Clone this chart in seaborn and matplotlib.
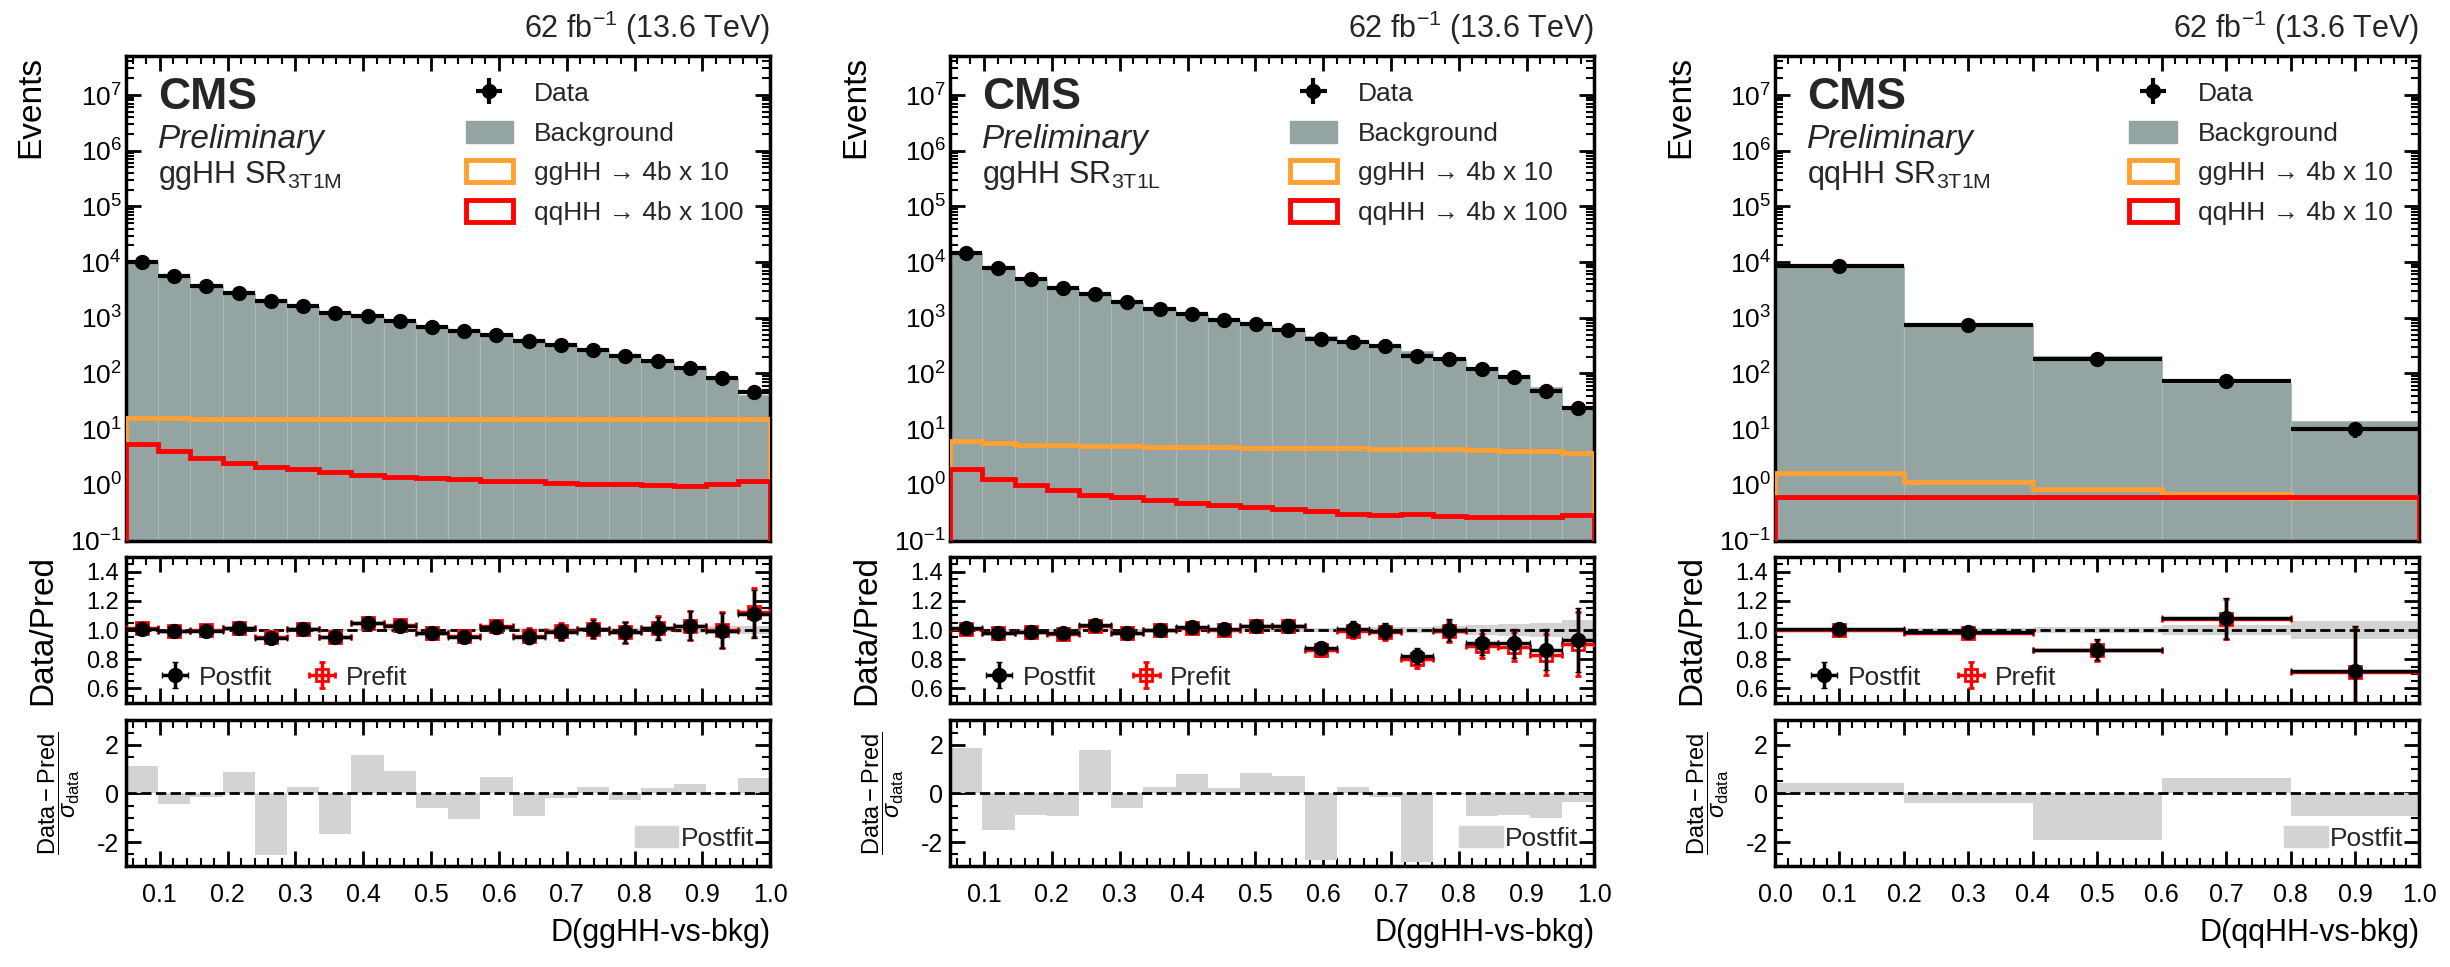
import numpy as np
import matplotlib
matplotlib.use("Agg")
import matplotlib.pyplot as plt
import seaborn as sns
from matplotlib.patches import Patch
from matplotlib.ticker import (MultipleLocator, LogLocator, NullFormatter,
                               FormatStrFormatter, AutoMinorLocator)

# ---- binning ----
edges_gg = np.linspace(0.05, 1.0, 21)
edges_qq = np.array([0.0, 0.2, 0.4, 0.6, 0.8, 1.0])

# ---- ggHH SR 3T1M ----
gg1_data = [10100, 5600, 3780, 2840, 1990, 1650, 1200, 1090, 880, 680,
            573, 497, 384, 318, 268, 207, 167, 128, 82, 46]
gg1_bkg = [10000, 5660, 3800, 2810, 2110, 1640, 1260, 1040, 855, 695,
           600, 486, 402, 322, 266, 210, 165, 124, 82, 41.5]
gg1_gghh = [15.6, 15.6, 15.5, 15.5, 15.5, 15.5, 15.4, 15.4, 15.4, 15.4,
            15.4, 15.4, 15.4, 15.4, 15.4, 15.4, 15.4, 15.4, 15.4, 15.4]
gg1_qqhh = [5.5, 4.0, 3.0, 2.5, 2.1, 1.9, 1.7, 1.53, 1.41, 1.35,
            1.26, 1.19, 1.15, 1.07, 1.04, 1.03, 1.0, 0.96, 1.03, 1.19]
gg1_post = [1.01, 0.99, 0.995, 1.012, 0.945, 1.005, 0.95, 1.046, 1.03, 0.977,
            0.955, 1.023, 0.955, 0.988, 1.007, 0.984, 1.012, 1.03, 0.995, 1.11]
gg1_pre = [1.015, 0.995, 1.0, 1.015, 0.95, 1.01, 0.955, 1.05, 1.035, 0.98,
           0.96, 1.025, 0.96, 0.99, 1.01, 0.985, 1.015, 1.03, 1.0, 1.12]
gg1_err = [0.01, 0.013, 0.016, 0.019, 0.022, 0.025, 0.029, 0.03, 0.034, 0.038,
           0.042, 0.045, 0.051, 0.056, 0.062, 0.072, 0.08, 0.1, 0.12, 0.165]
gg1_band = [0.004, 0.005, 0.005, 0.006, 0.006, 0.007, 0.007, 0.008, 0.008, 0.009,
            0.01, 0.01, 0.011, 0.012, 0.013, 0.014, 0.016, 0.018, 0.025, 0.03]
gg1_pull = [1.13, -0.45, -0.14, 0.87, -2.55, 0.26, -1.65, 1.59, 0.92, -0.59,
            -1.05, 0.68, -0.91, -0.17, 0.26, -0.28, 0.21, 0.37, -0.03, 0.63]

# ---- ggHH SR 3T1L ----
gg2_data = [14700, 7730, 4890, 3370, 2640, 1900, 1450, 1170, 930, 762,
            606, 412, 373, 309, 207, 182, 119, 85, 49, 24]
gg2_bkg = [14520, 7890, 4960, 3440, 2550, 1940, 1450, 1150, 924, 741,
           588, 470, 370, 311, 252, 182, 130, 93.6, 56.6, 25.8]
gg2_gghh = [6.06, 5.7, 5.3, 5.2, 5.0, 5.0, 4.8, 4.75, 4.7, 4.6,
            4.6, 4.55, 4.55, 4.4, 4.4, 4.35, 4.2, 4.1, 4.05, 3.8]
gg2_qqhh = [1.9, 1.28, 1.0, 0.81, 0.67, 0.6, 0.525, 0.47, 0.43, 0.394,
            0.37, 0.337, 0.305, 0.284, 0.296, 0.276, 0.264, 0.26, 0.264, 0.288]
gg2_post = [1.012, 0.98, 0.986, 0.98, 1.035, 0.98, 1.0, 1.018, 1.007, 1.028,
            1.03, 0.877, 1.007, 0.993, 0.822, 1.0, 0.914, 0.908, 0.866, 0.93]
gg2_pre = [1.01, 0.978, 0.983, 0.975, 1.03, 0.978, 0.998, 1.015, 1.0, 1.025,
           1.025, 0.862, 0.995, 0.985, 0.8, 0.99, 0.89, 0.885, 0.83, 0.905]
gg2_err = [0.008, 0.011, 0.014, 0.017, 0.02, 0.022, 0.026, 0.03, 0.033, 0.037,
           0.042, 0.043, 0.052, 0.056, 0.057, 0.074, 0.085, 0.1, 0.14, 0.22]
gg2_band = [0.004, 0.005, 0.005, 0.006, 0.006, 0.007, 0.008, 0.009, 0.01, 0.011,
            0.012, 0.014, 0.016, 0.018, 0.022, 0.025, 0.035, 0.04, 0.046, 0.07]
gg2_pull = [1.86, -1.49, -0.87, -0.94, 1.77, -0.58, 0.25, 0.79, 0.21, 0.83,
            0.72, -2.72, 0.25, -0.14, -2.83, -0.03, -0.91, -0.87, -0.99, -0.34]

# ---- qqHH SR 3T1M ----
qq_data = [8670, 752, 182, 72, 10]
qq_bkg = [8630, 764, 210, 66.6, 13.9]
qq_gghh = [1.63, 1.14, 0.855, 0.69, 0.58]
qq_qqhh = [0.6, 0.6, 0.6, 0.6, 0.6]
qq_post = [1.005, 0.984, 0.866, 1.081, 0.718]
qq_pre = [1.0, 0.98, 0.86, 1.075, 0.71]
qq_err = [0.012, 0.036, 0.07, 0.14, 0.31]
qq_band = [0.005, 0.012, 0.022, 0.032, 0.065]
qq_pull = [0.44, -0.39, -1.93, 0.62, -0.94]

BKG = "#94a4a2"
ORANGE = "#ffa033"
RED = "#ff0000"
LGREY = "#d3d3d3"
FONT = ["Liberation Sans", "DejaVu Sans"]

sns.set_theme(style="ticks")
plt.rcParams["font.family"] = FONT
plt.rcParams["mathtext.fontset"] = "custom"
plt.rcParams["mathtext.rm"] = "Liberation Sans"
plt.rcParams["mathtext.it"] = "Liberation Sans:italic"
plt.rcParams["mathtext.bf"] = "Liberation Sans:bold"

panels = [
    dict(edges=edges_gg, data=gg1_data, bkg=gg1_bkg, gghh=gg1_gghh, qqhh=gg1_qqhh,
         post=gg1_post, pre=gg1_pre, err=gg1_err, band=gg1_band, pull=gg1_pull,
         region=r"ggHH SR$_{\mathrm{3T1M}}$", qqlab="qqHH → 4b x 100",
         xlabel="D(ggHH-vs-bkg)"),
    dict(edges=edges_gg, data=gg2_data, bkg=gg2_bkg, gghh=gg2_gghh, qqhh=gg2_qqhh,
         post=gg2_post, pre=gg2_pre, err=gg2_err, band=gg2_band, pull=gg2_pull,
         region=r"ggHH SR$_{\mathrm{3T1L}}$", qqlab="qqHH → 4b x 100",
         xlabel="D(ggHH-vs-bkg)"),
    dict(edges=edges_qq, data=qq_data, bkg=qq_bkg, gghh=qq_gghh, qqhh=qq_qqhh,
         post=qq_post, pre=qq_pre, err=qq_err, band=qq_band, pull=qq_pull,
         region=r"qqHH SR$_{\mathrm{3T1M}}$", qqlab="qqHH → 4b x 10",
         xlabel="D(qqHH-vs-bkg)"),
]

lefts = [0.0514, 0.3878, 0.7245]
W = 0.263


def style(ax, labelsize=18):
    for s in ax.spines.values():
        s.set_linewidth(2.5)
        s.set_color("black")
    ax.tick_params(which="both", direction="in", top=True, right=True,
                   bottom=True, left=True, labelsize=labelsize, colors="black")
    ax.tick_params(which="major", length=11, width=2)
    ax.tick_params(which="minor", length=5.5, width=1.5)
    ax.grid(False)


fig = plt.figure(figsize=(24.5, 9.67), dpi=100)

for x0, p in zip(lefts, panels):
    edges = np.asarray(p["edges"])
    bins = list(edges)
    centers = 0.5 * (edges[:-1] + edges[1:])
    half = 0.5 * np.diff(edges)
    data = np.asarray(p["data"], dtype=float)
    band = np.asarray(p["band"])

    ax = fig.add_axes([x0, 0.441, W, 0.501])
    axr = fig.add_axes([x0, 0.273, W, 0.151])
    axp = fig.add_axes([x0, 0.104, W, 0.151])

    # --- main panel ---
    sns.histplot(x=centers, weights=p["bkg"], bins=bins, ax=ax, color=BKG,
                 alpha=1, edgecolor="#adb9b7", linewidth=0.8, zorder=1)
    ax.set_yscale("log")
    ax.stairs(p["gghh"], edges, color=ORANGE, lw=3.5, zorder=3)
    ax.stairs(p["qqhh"], edges, color=RED, lw=3.5, zorder=3)
    dat = ax.errorbar(centers, data, yerr=np.sqrt(data), xerr=half, fmt="o",
                      color="black", ms=10, lw=3, capsize=0, zorder=5)
    ax.set_xlim(edges[0], edges[-1])
    ax.set_ylim(0.1, 5e7)
    ax.yaxis.set_major_locator(LogLocator(base=10, numticks=20))
    ax.yaxis.set_minor_locator(LogLocator(base=10, subs=np.arange(2, 10), numticks=200))
    ax.yaxis.set_minor_formatter(NullFormatter())
    ax.xaxis.set_major_locator(MultipleLocator(0.1))
    ax.xaxis.set_minor_locator(MultipleLocator(0.02))
    style(ax, 19)
    ax.tick_params(axis="x", labelbottom=False)
    ax.tick_params(axis="y", pad=3)
    ax.set_xlabel("")
    ax.set_ylabel("Events", loc="top", fontsize=24, color="black")
    ax.yaxis.set_label_coords(-0.123, 1.0)

    ax.text(0.05, 0.915, "CMS", transform=ax.transAxes, fontsize=32,
            fontweight="bold", va="center", ha="left")
    ax.text(0.05, 0.828, "Preliminary", transform=ax.transAxes, fontsize=24,
            style="italic", va="center", ha="left")
    ax.text(0.05, 0.738, p["region"], transform=ax.transAxes, fontsize=22,
            va="baseline", ha="left")
    ax.text(1.0, 1.018, r"62 fb$^{-1}$ (13.6 TeV)", transform=ax.transAxes,
            fontsize=22, ha="right", va="bottom")

    handles = [dat, Patch(facecolor=BKG, edgecolor=BKG),
               Patch(facecolor="none", edgecolor=ORANGE, lw=3.5),
               Patch(facecolor="none", edgecolor=RED, lw=3.5)]
    labels = ["Data", "Background", "ggHH → 4b x 10", p["qqlab"]]
    ax.legend(handles, labels, loc="upper right", bbox_to_anchor=(0.975, 0.97),
              frameon=False, fontsize=19, handlelength=1.8, handleheight=0.9,
              labelspacing=0.55, handletextpad=0.8, borderaxespad=0)

    # --- ratio panel ---
    axr.stairs(1 + band, edges, baseline=1 - band, fill=True, color=LGREY,
               lw=0, zorder=1)
    axr.axhline(1.0, color="black", ls="--", lw=2, zorder=2)
    pre = axr.errorbar(centers, p["pre"], yerr=p["err"], xerr=half, fmt="s",
                       color=RED, mfc="none", mec=RED, mew=2, ms=8, lw=2.5,
                       capsize=2, zorder=3)
    post = axr.errorbar(centers, p["post"], yerr=p["err"], xerr=half, fmt="o",
                        color="black", ms=10, lw=2.5, capsize=2, zorder=4)
    axr.set_xlim(edges[0], edges[-1])
    axr.set_ylim(0.5, 1.5)
    axr.yaxis.set_major_locator(MultipleLocator(0.2))
    axr.yaxis.set_minor_locator(AutoMinorLocator())
    axr.yaxis.set_major_formatter(FormatStrFormatter("%.1f"))
    axr.xaxis.set_major_locator(MultipleLocator(0.1))
    axr.xaxis.set_minor_locator(MultipleLocator(0.02))
    style(axr, 17)
    axr.tick_params(axis="x", labelbottom=False)
    axr.tick_params(axis="y", pad=5)
    axr.set_ylabel("Data/Pred", fontsize=24, color="black")
    axr.yaxis.set_label_coords(-0.105, 0.5)
    axr.legend([post, pre], ["Postfit", "Prefit"], loc="lower left",
               bbox_to_anchor=(0.035, 0.02), ncol=2, frameon=False, fontsize=19,
               handlelength=1.2, handletextpad=0.3, columnspacing=1.3,
               borderaxespad=0)

    # --- pull panel ---
    sns.histplot(x=centers, weights=p["pull"], bins=bins, ax=axp, color=LGREY,
                 alpha=1, linewidth=0, zorder=1)
    axp.axhline(0.0, color="black", ls="--", lw=2, zorder=2)
    axp.set_xlim(edges[0], edges[-1])
    axp.set_ylim(-3, 3)
    axp.yaxis.set_major_locator(MultipleLocator(2))
    axp.yaxis.set_minor_locator(MultipleLocator(0.5))
    axp.yaxis.set_major_formatter(FormatStrFormatter("%d"))
    axp.xaxis.set_major_locator(MultipleLocator(0.1))
    axp.xaxis.set_minor_locator(MultipleLocator(0.02))
    axp.xaxis.set_major_formatter(FormatStrFormatter("%.1f"))
    style(axp, 18)
    axp.tick_params(axis="x", pad=12)
    axp.tick_params(axis="y", pad=5)
    axp.set_ylabel(r"$\dfrac{\mathrm{Data} - \mathrm{Pred}}{\sigma_{\mathrm{data}}}$",
                   fontsize=17, color="black")
    axp.yaxis.set_label_coords(-0.068, 0.5)
    axp.set_xlabel(p["xlabel"], loc="right", fontsize=22, color="black", labelpad=8)
    axp.legend([Patch(facecolor=LGREY, edgecolor=LGREY)], ["Postfit"],
               loc="lower right", bbox_to_anchor=(1.0, 0.0), frameon=False,
               fontsize=19, handlelength=1.65, handleheight=0.8,
               handletextpad=0.1, borderaxespad=0.2)

fig.savefig("out.png", dpi=100)
